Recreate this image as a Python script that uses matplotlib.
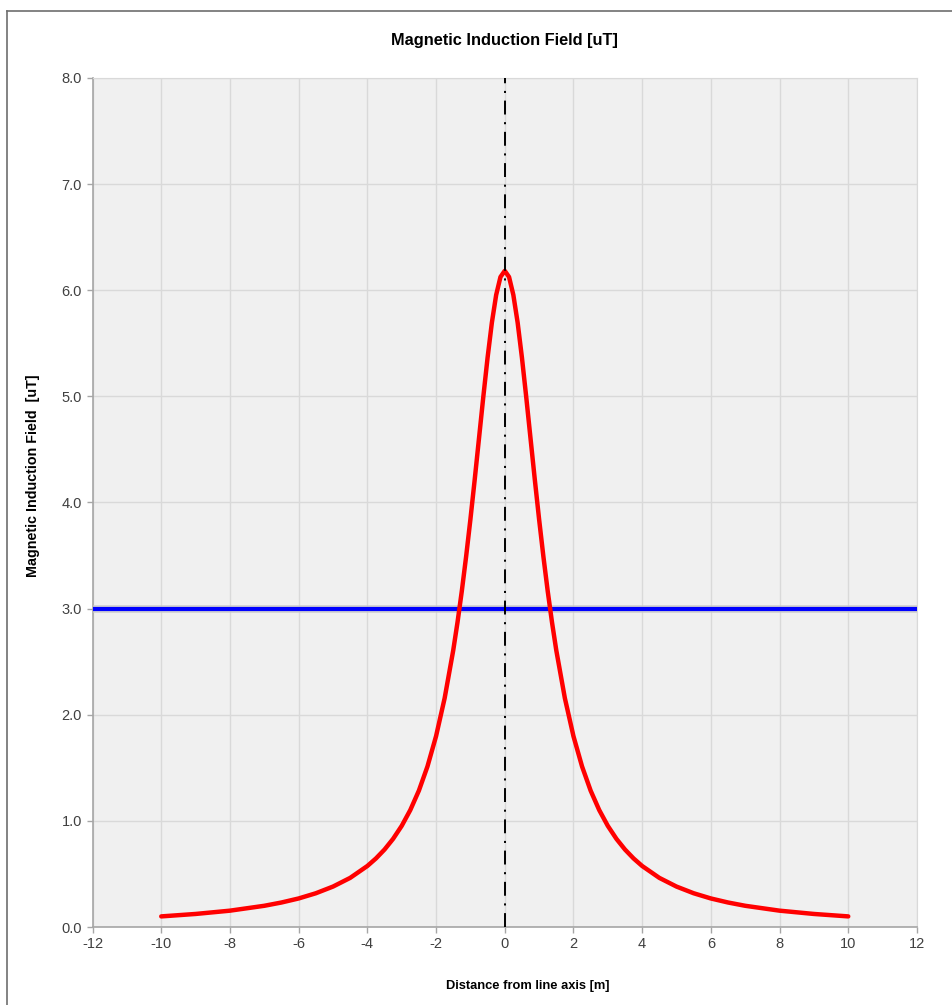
import matplotlib.pyplot as plt
from matplotlib.lines import Line2D

plt.rcParams["font.family"] = ["Liberation Sans", "DejaVu Sans"]
plt.rcParams["lines.scale_dashes"] = False

# distance from line axis [m] and field values [uT]
distance = [-10, -9, -8, -7, -6.5, -6, -5.5, -5, -4.5, -4, -3.75, -3.5, -3.25,
            -3, -2.75, -2.5, -2.25, -2, -1.75, -1.5, -1.375, -1.25, -1.125,
            -1, -0.875, -0.75, -0.625, -0.5, -0.375, -0.25, -0.125,
            0,
            0.125, 0.25, 0.375, 0.5, 0.625, 0.75, 0.875, 1,
            1.125, 1.25, 1.375, 1.5, 1.75, 2, 2.25, 2.5, 2.75, 3,
            3.25, 3.5, 3.75, 4, 4.5, 5, 5.5, 6, 6.5, 7, 8, 9, 10]
field = [0.100, 0.123, 0.154, 0.200, 0.231, 0.269, 0.318, 0.381, 0.463, 0.575,
         0.646, 0.730, 0.831, 0.953, 1.102, 1.285, 1.513, 1.798, 2.156, 2.607,
         2.872, 3.166, 3.490, 3.841, 4.215, 4.604, 4.994, 5.365, 5.695, 5.956,
         6.125,
         6.183,
         6.125, 5.956, 5.695, 5.365, 4.994, 4.604, 4.215, 3.841,
         3.490, 3.166, 2.872, 2.607, 2.156, 1.798, 1.513, 1.285, 1.102, 0.953,
         0.831, 0.730, 0.646, 0.575, 0.463, 0.381, 0.318, 0.269, 0.231, 0.200,
         0.154, 0.123, 0.100]

limit_value = 3.0
x_ticks = [-12, -10, -8, -6, -4, -2, 0, 2, 4, 6, 8, 10, 12]
y_ticks = [0, 1, 2, 3, 4, 5, 6, 7, 8]

fig = plt.figure(figsize=(9.53, 10.05), dpi=100)
ax = fig.add_axes([0.0971, 0.0776, 0.8651, 0.8448])
ax.set_facecolor("#f0f0f0")

# chart border (Excel style), cut by the image edges on right/bottom
fig.add_artist(Line2D([7 / 953, 1], [1 - 11 / 1005, 1 - 11 / 1005],
                      color="#6e6e6e", lw=1.2, transform=fig.transFigure))
fig.add_artist(Line2D([7 / 953, 7 / 953], [0, 1 - 11 / 1005],
                      color="#6e6e6e", lw=1.2, transform=fig.transFigure))

# limit line with a faint shadow
ax.plot([x_ticks[0], x_ticks[-1]], [limit_value, limit_value],
        color="#c8c8c8", lw=5.5, alpha=0.8, zorder=3)
ax.plot([x_ticks[0], x_ticks[-1]], [limit_value, limit_value],
        color="#0000ff", lw=3.0, zorder=4)

# field curve
ax.plot(distance, field, color="#ff0000", lw=3.2, zorder=5,
        solid_capstyle="round", solid_joinstyle="round")

# line axis
ax.plot([0, 0], [y_ticks[0], y_ticks[-1]], color="black", lw=1.4,
        linestyle=(0, (10, 5.5, 1.5, 5.5)), zorder=6)

ax.set_xlim(-12, 12)
ax.set_ylim(0, 8)
ax.set_xticks(x_ticks)
ax.set_xticklabels([str(t) for t in x_ticks])
ax.set_yticks(y_ticks)
ax.set_yticklabels([f"{t:.1f}" for t in y_ticks])

ax.grid(True, color="#d9d9d9", lw=1.0)
ax.set_axisbelow(True)
for side in ["top", "right"]:
    ax.spines[side].set_color("#d9d9d9")
for side in ["left", "bottom"]:
    ax.spines[side].set_color("#a6a6a6")
    ax.spines[side].set_linewidth(1.2)
ax.tick_params(axis="both", colors="#a6a6a6", labelcolor="#404040",
               labelsize=10.5, length=4, width=1.0)
ax.tick_params(axis="x", pad=3)

ax.set_title("Magnetic Induction Field [uT]", fontsize=11.8, fontweight="bold",
             pad=24)
ax.set_ylabel("Magnetic Induction Field  [uT]", fontsize=10.3, fontweight="bold")
ax.yaxis.set_label_coords(-0.0636, 0.531)
fig.text(528 / 953, 1 - 986 / 1005, "Distance from line axis [m]",
         ha="center", va="center", fontsize=9.3, fontweight="bold")

fig.savefig("out.png", dpi=100)
